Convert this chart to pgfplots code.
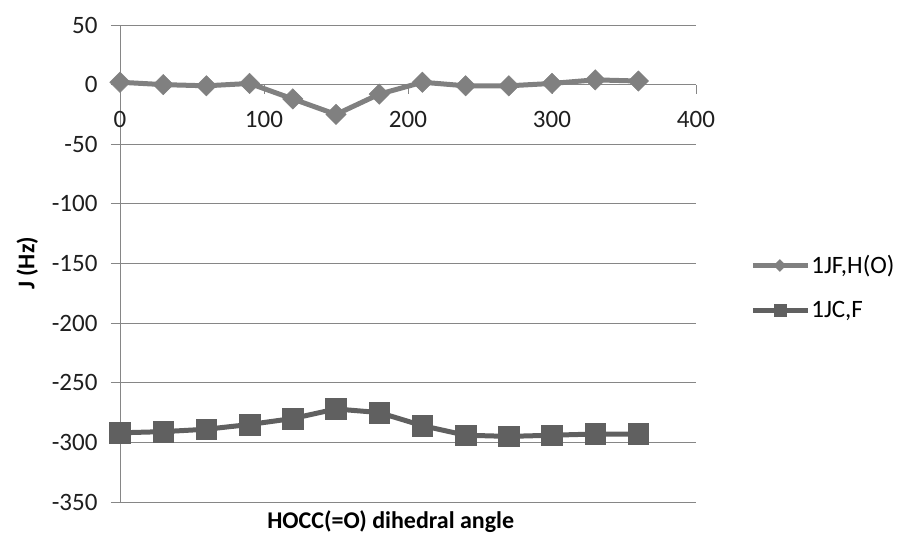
\documentclass[border=0pt]{standalone}
\usepackage{pgfplots}
\pgfplotsset{compat=1.18}
\usepackage{fontspec}
\setmainfont{Carlito}
\definecolor{gridc}{RGB}{134,134,134}
\definecolor{sone}{RGB}{128,128,128}
\definecolor{stwo}{RGB}{96,96,96}
\begin{document}
\begin{tikzpicture}
\useasboundingbox (-120pt,-35pt) rectangle (789pt,502pt);
\begin{axis}[
  scale only axis, width=576pt, height=477pt,
  xmin=0, xmax=400, ymin=-350, ymax=50,
  axis x line=middle, axis y line=left,
  axis line style={gridc, line width=0.9pt, -},
  xtick={0,100,...,400}, ytick={-350,-300,...,50},
  ymajorgrids, grid style={gridc, line width=0.9pt},
  tick align=outside, major tick length=9pt,
  tick style={gridc, line width=0.9pt},
  hide obscured x ticks=false, hide obscured y ticks=false,
  /pgf/number format/assume math mode=true,
  ticklabel style={font=\fontsize{25}{30}\selectfont, text=black!88},
  xticklabel style={yshift=-14pt},
  yticklabel style={xshift=-10pt},
  clip=false,
  xlabel={\textbf{HOCC(=O) dihedral angle}},
  ylabel={\textbf{J (Hz)}},
  label style={font=\fontsize{24}{28}\selectfont, text=black},
  xlabel style={at={(axis description cs:0.470,-0.042)}, anchor=center},
  ylabel style={at={(axis description cs:-0.161,0.5)}, anchor=center},
  legend style={draw=none, fill=none, at={(axis description cs:1.094,0.450)}, anchor=west,
    font=\fontsize{25}{30}\selectfont, row sep=24pt, inner sep=0pt,
    nodes={inner sep=1pt}},
  legend cell align=left,
  legend image code/.code={\draw[#1, mark repeat=2, mark phase=2] plot coordinates {(0pt,0pt) (27pt,0pt) (55pt,0pt)};},
]
\addplot[color=sone, line width=5pt, mark=square*, mark size=7.2pt, mark options={solid, rotate=45, fill=sone, line width=0.5pt},
  legend image post style={mark size=4.2pt}]
  coordinates {(0,2) (30,0) (60,-1) (90,1) (120,-12) (150,-25) (180,-8) (210,2) (240,-1) (270,-1) (300,1) (330,4) (360,3)};
\addlegendentry{1JF,H(O)}
\addplot[color=stwo, line width=5pt, mark=square*, mark size=10.3pt, mark options={solid, fill=stwo, line width=0.5pt},
  legend image post style={mark size=6pt}]
  coordinates {(0,-292) (30,-291) (60,-289) (90,-285) (120,-280) (150,-272) (180,-275) (210,-286) (240,-294) (270,-295) (300,-294) (330,-293) (360,-293)};
\addlegendentry{1JC,F}
\end{axis}
\end{tikzpicture}
\end{document}
